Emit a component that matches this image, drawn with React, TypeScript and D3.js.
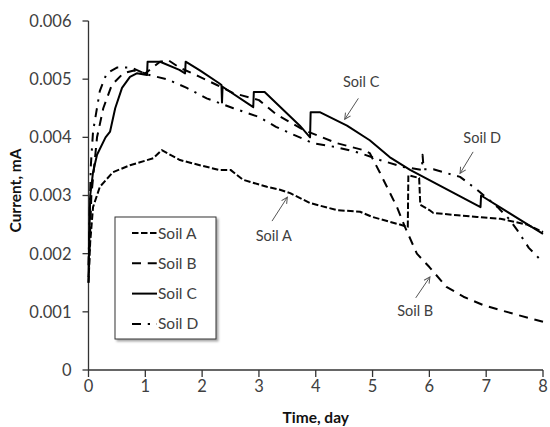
import React from 'react';
import * as d3 from 'd3';

// time (day) / current (mA)
const soilA: [number, number][] = [
  [0, 0.0015], [0.03, 0.0022], [0.08, 0.0028], [0.2, 0.00315], [0.43, 0.0034], [0.73, 0.00352],
  [1.14, 0.00364], [1.29, 0.00378], [1.61, 0.00361], [1.96, 0.00352], [2.3, 0.00344], [2.5, 0.00344],
  [2.72, 0.00327], [3.14, 0.00315], [3.37, 0.0031], [3.55, 0.00304], [3.9, 0.00287], [4.37, 0.00275],
  [4.78, 0.00272], [5.0, 0.00263], [5.48, 0.0025], [5.62, 0.00246], [5.63, 0.00335], [5.82, 0.0033],
  [5.84, 0.00284], [6.0, 0.00275], [6.07, 0.0027], [6.5, 0.00266], [6.84, 0.00263], [7.25, 0.0026],
  [7.72, 0.0025], [8.0, 0.00237],
];
const soilB: [number, number][] = [
  [0, 0.0015], [0.05, 0.003], [0.15, 0.004], [0.26, 0.0045], [0.41, 0.0049], [0.61, 0.0051],
  [0.8, 0.00515], [1.0, 0.0051], [1.26, 0.0053], [1.4, 0.00533], [1.6, 0.0052], [1.96, 0.00504],
  [2.26, 0.0049], [2.55, 0.00476], [3.0, 0.00464], [3.3, 0.0044], [3.78, 0.00413], [4.37, 0.0039],
  [4.84, 0.00378], [4.95, 0.00373], [5.13, 0.00339], [5.43, 0.0028], [5.57, 0.00246], [5.78, 0.002],
  [6.0, 0.00177], [6.3, 0.00143], [6.6, 0.00126], [6.94, 0.00112], [7.25, 0.00103], [7.54, 0.00095],
  [8.0, 0.00083],
];
const soilC: [number, number][] = [
  [0, 0.0016], [0.03, 0.003], [0.08, 0.0034], [0.15, 0.0037], [0.3, 0.004], [0.38, 0.0041],
  [0.47, 0.0045], [0.59, 0.00485], [0.73, 0.00504], [0.85, 0.0051], [1.03, 0.00507], [1.04, 0.0053],
  [1.26, 0.0053], [1.6, 0.00516], [1.7, 0.0051], [1.71, 0.0053], [1.96, 0.00515], [2.3, 0.00493],
  [2.34, 0.0049], [2.35, 0.0046], [2.36, 0.00487], [2.9, 0.00452], [2.91, 0.00478], [3.1, 0.00478],
  [3.72, 0.0042], [3.9, 0.004], [3.91, 0.00443], [4.08, 0.00443], [4.55, 0.0042], [4.95, 0.00395],
  [5.3, 0.00366], [5.66, 0.00344], [6.9, 0.0028], [6.91, 0.003], [7.6, 0.00258], [8.0, 0.00234],
];
const soilD: [number, number][] = [
  [0, 0.0018], [0.04, 0.0035], [0.08, 0.0041], [0.2, 0.0048], [0.32, 0.0051], [0.5, 0.0052],
  [0.75, 0.0052], [1.03, 0.00508], [1.38, 0.005], [1.73, 0.00485], [2.08, 0.00467], [2.55, 0.0045],
  [3.0, 0.00435], [3.3, 0.00418], [3.55, 0.00407], [3.95, 0.0039], [4.37, 0.00383], [4.78, 0.00373],
  [5.13, 0.00361], [5.54, 0.00349], [5.87, 0.00344], [5.88, 0.0037], [5.9, 0.00345], [6.07, 0.00345],
  [6.54, 0.00332], [6.84, 0.0031], [7.2, 0.0028], [7.4, 0.0026], [7.55, 0.0024], [7.75, 0.0021],
  [7.95, 0.0019],
];

const seriesNames = ['Soil A', 'Soil B', 'Soil C', 'Soil D'];
const seriesData = [soilA, soilB, soilC, soilD];
const dashes = ['6.5,2.5', '9,6.75', '', '9,6.75,2.25,6.75'];
const xTicks = [0, 1, 2, 3, 4, 5, 6, 7, 8];
const yTicks = [0, 0.001, 0.002, 0.003, 0.004, 0.005, 0.006];

// annotation labels: text anchor point and arrow from -> to, in data units
const notes = [
  { label: 'Soil A', at: [3.26, 0.00222], from: [3.23, 0.00256], to: [3.5, 0.00297] },
  { label: 'Soil B', at: [5.75, 0.00093], from: [5.76, 0.00124], to: [6.01, 0.00160] },
  { label: 'Soil C', at: [4.8, 0.00486], from: [4.75, 0.00467], to: [4.51, 0.00431] },
  { label: 'Soil D', at: [6.93, 0.00390], from: [6.77, 0.00375], to: [6.54, 0.00338] },
];

const W = 550;
const H = 427;
const margin = { top: 21, right: 7, bottom: 57, left: 88.5 };
const font = "Lato, 'Open Sans', sans-serif";
const textCol = '#404040';

export default function App() {
  const x = d3.scaleLinear().domain([0, 8]).range([margin.left, W - margin.right]);
  const y = d3.scaleLinear().domain([0, 0.006]).range([H - margin.bottom, margin.top]);
  const line = d3.line<[number, number]>().x(d => x(d[0])).y(d => y(d[1]));
  const x0 = x(0);
  const y0 = y(0);

  const legX = 115;
  const legY = 217;
  const legW = 101;
  const legH = 122;

  return (
    <div style={{ position: 'absolute', left: 0, top: 0 }}>
      <svg width={W} height={H} style={{ display: 'block', background: '#fff' }}>
        <defs>
          <marker id="arr" markerWidth="8" markerHeight="8" refX="7" refY="4" orient="auto" markerUnits="userSpaceOnUse">
            <path d="M1,1 L7,4 L1,7" fill="none" stroke="#555" strokeWidth={1} />
          </marker>
          <filter id="shadow" x="-10%" y="-10%" width="130%" height="130%">
            <feDropShadow dx="2" dy="2" stdDeviation="1.2" floodColor="#000" floodOpacity="0.35" />
          </filter>
        </defs>

        {/* axes */}
        <line x1={x0} x2={x0} y1={y(0.006)} y2={y0} stroke="#333" strokeWidth={1.3} />
        <line x1={x0} x2={x(8)} y1={y0} y2={y0} stroke="#333" strokeWidth={1.3} />
        {yTicks.map(t => (
          <g key={'y' + t}>
            <line x1={x0 - 6} x2={x0} y1={y(t)} y2={y(t)} stroke="#333" strokeWidth={1.3} />
            <text x={x0 - 17} y={y(t)} dy="0.36em" textAnchor="end" fontFamily={font} fontSize={16.5} fill={textCol}>
              {t === 0 ? '0' : t.toFixed(3)}
            </text>
          </g>
        ))}
        {xTicks.map(t => (
          <g key={'x' + t}>
            <line x1={x(t)} x2={x(t)} y1={y0} y2={y0 + 7} stroke="#333" strokeWidth={1.3} />
            <text x={x(t)} y={y0 + 22} textAnchor="middle" fontFamily={font} fontSize={16.5} fill={textCol}>
              {t}
            </text>
          </g>
        ))}
        <text x={x(4)} y={H - 4} textAnchor="middle" fontFamily={font} fontWeight="bold" fontSize={15.5} fill="#111">
          Time, day
        </text>
        <text transform={`translate(21, ${(y(0.006) + y0) / 2 - 5}) rotate(-90)`} textAnchor="middle"
          fontFamily={font} fontWeight="bold" fontSize={15.5} fill="#111">
          Current, mA
        </text>

        {/* curves */}
        {seriesData.map((s, i) => (
          <path key={seriesNames[i]} d={line(s) || ''} fill="none" stroke="#000" strokeWidth={2}
            strokeDasharray={dashes[i] || undefined} strokeLinejoin="round" />
        ))}

        {/* annotations */}
        {notes.map(n => (
          <g key={n.label}>
            <line x1={x(n.from[0])} y1={y(n.from[1])} x2={x(n.to[0])} y2={y(n.to[1])}
              stroke="#555" strokeWidth={1} markerEnd="url(#arr)" />
            <text x={x(n.at[0])} y={y(n.at[1])} textAnchor="middle" fontFamily={font} fontSize={14.5} fill={textCol}>
              {n.label}
            </text>
          </g>
        ))}

        {/* legend */}
        <rect x={legX} y={legY} width={legW} height={legH} fill="#fff" stroke="#333" strokeWidth={1} filter="url(#shadow)" />
        {seriesNames.map((name, i) => {
          const cy = legY + 16 + i * 30.3;
          return (
            <g key={'leg' + name}>
              <line x1={legX + 17} x2={legX + 42} y1={cy} y2={cy} stroke="#000" strokeWidth={2}
                strokeDasharray={dashes[i] || undefined} />
              <text x={legX + 43} y={cy} dy="0.36em" fontFamily={font} fontSize={15.5} fill={textCol}>
                {name}
              </text>
            </g>
          );
        })}
      </svg>
    </div>
  );
}
